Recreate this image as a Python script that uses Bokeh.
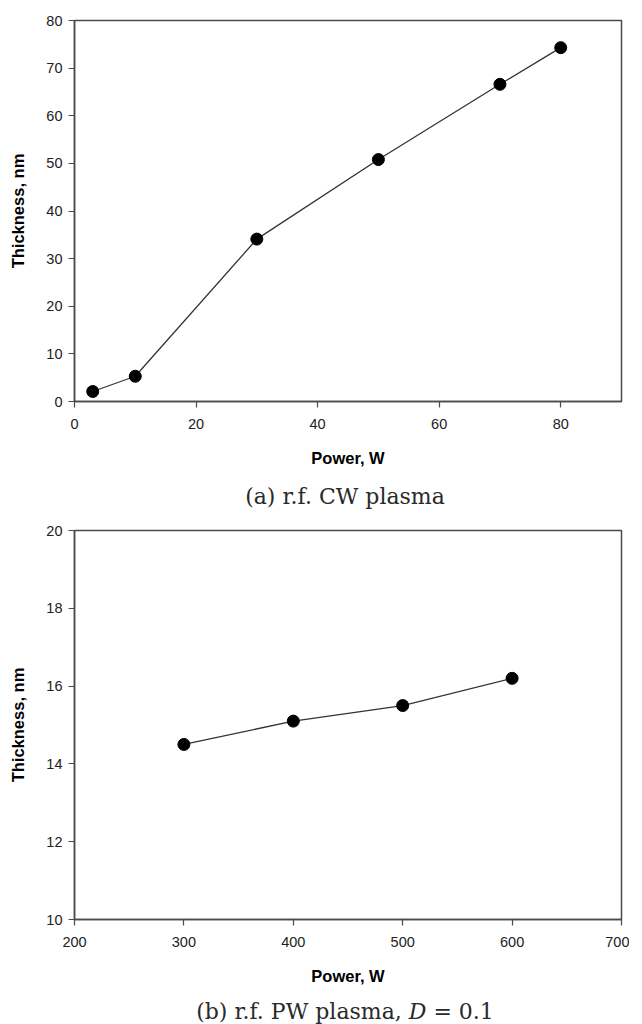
from bokeh.plotting import figure
from bokeh.models import Range1d, FixedTicker, Div
from bokeh.layouts import column
from bokeh.embed import file_html
from bokeh.resources import INLINE

# Panel (a): r.f. CW plasma
cw_power = [3, 10, 30, 50, 70, 80]
cw_thickness = [2.1, 5.3, 34.1, 50.8, 66.6, 74.3]
cw_xticks = [0, 20, 40, 60, 80]
cw_yticks = [0, 10, 20, 30, 40, 50, 60, 70, 80]

# Panel (b): r.f. PW plasma, D = 0.1
pw_power = [300, 400, 500, 600]
pw_thickness = [14.5, 15.1, 15.5, 16.2]
pw_xticks = [200, 300, 400, 500, 600, 700]
pw_yticks = [10, 12, 14, 16, 18, 20]

AXIS_COLOR = "#4a4a4a"
TICK_FONT = "Liberation Sans"
CAP_FONT = "DejaVu Serif"


def style(p, xticks, yticks):
    p.xgrid.visible = False
    p.ygrid.visible = False
    p.outline_line_color = AXIS_COLOR
    p.outline_line_width = 1.5
    for ax in (p.xaxis[0], p.yaxis[0]):
        ax.axis_line_color = AXIS_COLOR
        ax.axis_line_width = 1.5
        ax.major_tick_line_color = AXIS_COLOR
        ax.major_tick_line_width = 1.2
        ax.major_tick_in = 0
        ax.major_tick_out = 6
        ax.minor_tick_line_color = None
        ax.major_label_text_font = TICK_FONT
        ax.major_label_text_font_size = "14.5px"
        ax.major_label_text_color = "#222222"
        ax.axis_label_text_font = TICK_FONT
        ax.axis_label_text_font_size = "16.5px"
        ax.axis_label_text_font_style = "bold"
        ax.axis_label_text_color = "#000000"
    p.xaxis[0].ticker = FixedTicker(ticks=xticks)
    p.yaxis[0].ticker = FixedTicker(ticks=yticks)
    p.xaxis[0].major_label_standoff = 11
    p.xaxis[0].axis_label_standoff = 17
    p.yaxis[0].major_label_standoff = 6
    p.yaxis[0].axis_label_standoff = 16
    p.xaxis[0].axis_label = "Power, W"
    p.yaxis[0].axis_label = "Thickness, nm"


def caption(html, height, pad_top):
    return Div(
        text=('<div style="width:629px;box-sizing:border-box;padding-left:61px;'
              'text-align:center;font-family:\'DejaVu Serif\';font-size:22px;'
              'line-height:26px;color:#2a2a2a;padding-top:%dpx;white-space:nowrap;">%s</div>'
              % (pad_top, html)),
        width=629, height=height, margin=(0, 0, 0, 0))


# ---- Figure (a)
p1 = figure(width=629, height=472, output_backend="svg", toolbar_location=None,
            x_range=Range1d(0, 90), y_range=Range1d(0, 80),
            min_border_left=72, min_border_right=8, min_border_top=20,
            min_border_bottom=71)
style(p1, cw_xticks, cw_yticks)
p1.line(cw_power, cw_thickness, line_color="#333333", line_width=1.3)
p1.scatter(cw_power, cw_thickness, size=12, fill_color="black", line_color="black")

cap1 = caption("(a) r.f. CW plasma", 50, 12)

# ---- Figure (b)
p2 = figure(width=629, height=467, output_backend="svg", toolbar_location=None,
            x_range=Range1d(200, 700), y_range=Range1d(10, 20),
            min_border_left=74, min_border_right=2, min_border_top=8,
            min_border_bottom=70)
style(p2, pw_xticks, pw_yticks)
p2.line(pw_power, pw_thickness, line_color="#333333", line_width=1.3)
p2.scatter(pw_power, pw_thickness, size=12, fill_color="black", line_color="black")

cap2 = caption("(b) r.f. PW plasma, <i>D</i> = 0.1", 35, 10)

layout = column(p1, cap1, p2, cap2, spacing=0)
open("out.html", "w").write(file_html(layout, INLINE))
